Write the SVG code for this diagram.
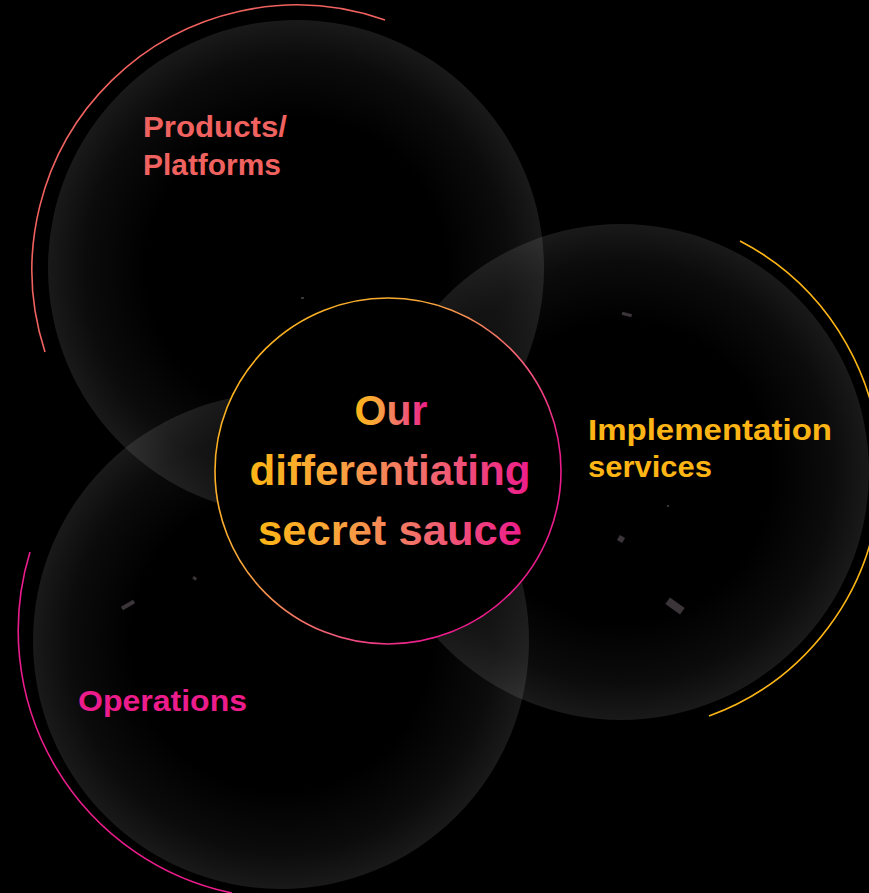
<svg xmlns="http://www.w3.org/2000/svg" width="869" height="893" viewBox="0 0 869 893">
  <defs>
    <!-- soft glassy disc: transparent core, faint light rim -->
    <radialGradient id="disc" cx="0.5" cy="0.5" r="0.5">
      <stop offset="0" stop-color="#ffffff" stop-opacity="0"/>
      <stop offset="0.6" stop-color="#ffffff" stop-opacity="0"/>
      <stop offset="0.85" stop-color="#ffffff" stop-opacity="0.045"/>
      <stop offset="1" stop-color="#ffffff" stop-opacity="0.1"/>
    </radialGradient>
    <linearGradient id="ring" x1="0" y1="0.15" x2="1" y2="0.85">
      <stop offset="0" stop-color="#FDB515"/>
      <stop offset="0.35" stop-color="#F9A83A"/>
      <stop offset="0.62" stop-color="#F05A7A"/>
      <stop offset="0.8" stop-color="#EC1C8C"/>
      <stop offset="1" stop-color="#EC1C8C"/>
    </linearGradient>
    <linearGradient id="word" x1="0" y1="0" x2="1" y2="0">
      <stop offset="0" stop-color="#FDB515"/>
      <stop offset="0.3" stop-color="#F9A53B"/>
      <stop offset="0.6" stop-color="#F2706A"/>
      <stop offset="1" stop-color="#EC1C8C"/>
    </linearGradient>
    <style>
      .disc { fill: url(#disc); }
      .arc { fill: none; stroke-width: 1.6; }
      .label { font-family: "Century Gothic", "URW Gothic", "Liberation Sans", Arial, sans-serif; font-weight: bold; font-size: 30px; }
      .core { font-family: "Century Gothic", "URW Gothic", "Liberation Sans", Arial, sans-serif; font-weight: bold; font-size: 43px; fill: url(#word); text-anchor: middle; }
      .speck { fill: #3b3539; }
    </style>
  </defs>

  <rect width="869" height="893" fill="#000000"/>

  <!-- Products / Platforms -->
  <g id="products">
    <circle class="disc" cx="296" cy="268" r="248"/>
    <path class="arc" stroke="#F0625F" d="M 385 20 A 265 265 0 0 0 45 352"/>
    <text class="label" fill="#F0625F" x="143" y="137" textLength="144" lengthAdjust="spacingAndGlyphs">Products/</text>
    <text class="label" fill="#F0625F" x="143" y="175" textLength="138" lengthAdjust="spacingAndGlyphs">Platforms</text>
  </g>

  <!-- Implementation services -->
  <g id="implementation">
    <circle class="disc" cx="621" cy="472" r="248"/>
    <path class="arc" stroke="#FDB515" d="M 740 241 A 260 260 0 0 1 709 716"/>
    <text class="label" fill="#FDB515" x="588" y="440" textLength="244" lengthAdjust="spacingAndGlyphs">Implementation</text>
    <text class="label" fill="#FDB515" x="588" y="477" textLength="124" lengthAdjust="spacingAndGlyphs">services</text>
  </g>

  <!-- Operations -->
  <g id="operations">
    <circle class="disc" cx="281" cy="641" r="248"/>
    <path class="arc" stroke="#EC1C8C" d="M 30 552 A 268 268 0 0 0 232 893"/>
    <text class="label" fill="#EC1C8C" x="78" y="711" textLength="169" lengthAdjust="spacingAndGlyphs">Operations</text>
  </g>

  <!-- small surface marks -->
  <g id="marks">
    <rect class="speck" x="622" y="313" width="10" height="3" transform="rotate(15 627 314)"/>
    <rect class="speck" x="301" y="297" width="3" height="2"/>
    <rect class="speck" x="618" y="536" width="6" height="6" transform="rotate(30 621 539)"/>
    <rect class="speck" x="666" y="602" width="18" height="8" transform="rotate(35 675 606)"/>
    <rect class="speck" x="121" y="603" width="14" height="4" transform="rotate(-30 128 605)"/>
    <rect class="speck" x="193" y="577" width="4" height="3" transform="rotate(40 195 578)"/>
    <rect class="speck" x="667" y="505" width="2" height="2"/>
  </g>

  <!-- central hub -->
  <g id="core">
    <circle cx="388" cy="471" r="173" fill="#000000" stroke="url(#ring)" stroke-width="1.6"/>
    <text class="core" x="391" y="425" textLength="73" lengthAdjust="spacingAndGlyphs">Our</text>
    <text class="core" x="390" y="485" textLength="281" lengthAdjust="spacingAndGlyphs">differentiating</text>
    <text class="core" x="390" y="545" textLength="264" lengthAdjust="spacingAndGlyphs">secret sauce</text>
  </g>
</svg>
